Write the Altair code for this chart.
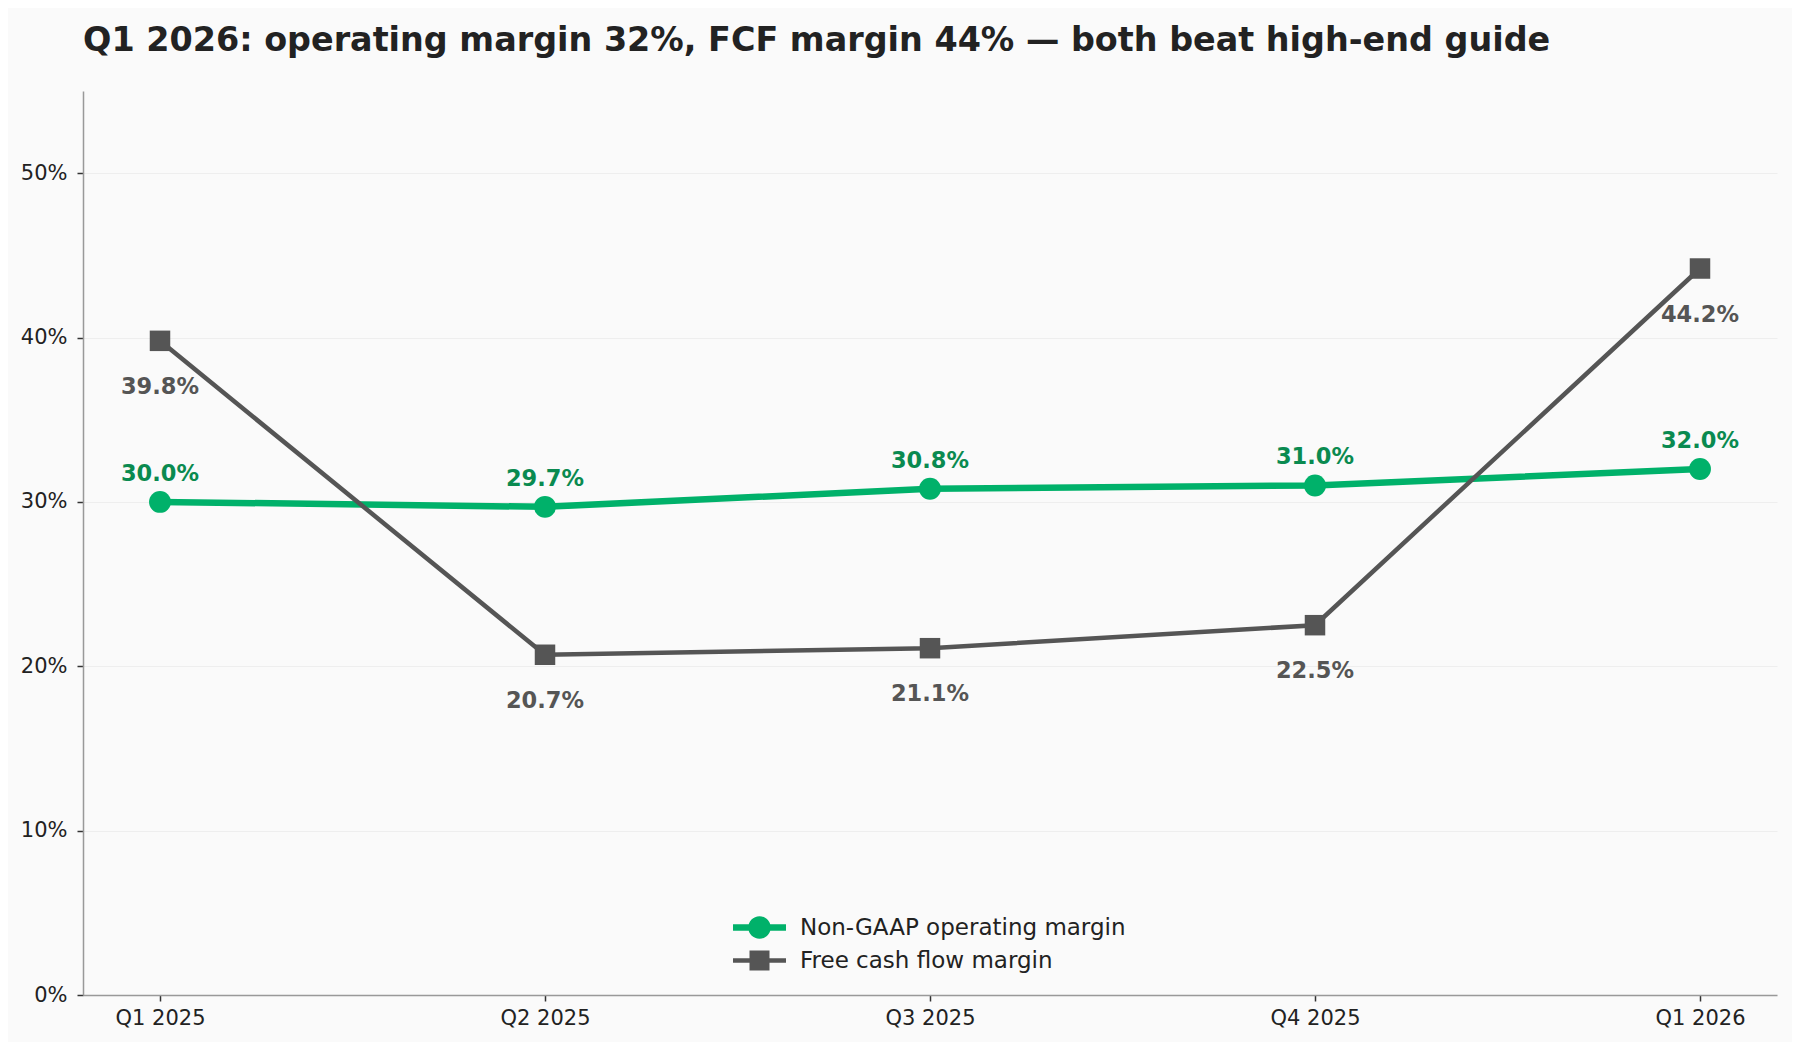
#!/usr/bin/env python3

"""Quarterly operating margin vs FCF margin line chart."""

import altair as alt
import pandas as pd

quarters = ["Q1 2025", "Q2 2025", "Q3 2025", "Q4 2025", "Q1 2026"]
op_margin = [30.0, 29.7, 30.8, 31.0, 32.0]
fcf_margin = [39.8, 20.7, 21.1, 22.5, 44.2]
series_names = ["Non-GAAP operating margin", "Free cash flow margin"]
y_ticks = [0, 10, 20, 30, 40, 50]

GREEN = "#00b16a"
GREEN_TEXT = "#0a8a50"
GRAY = "#555555"

# legend symbols: line segment with the marker on it
CIRCLE_LINE = ("M-2,-0.25 L2,-0.25 L2,0.25 L-2,0.25 Z "
               "M0,-0.85 A0.85,0.85 0 1 1 0,0.85 A0.85,0.85 0 1 1 0,-0.85 Z")
SQUARE_LINE = ("M-2,-0.17 L2,-0.17 L2,0.17 L-2,0.17 Z "
               "M-0.755,-0.755 L0.755,-0.755 L0.755,0.755 L-0.755,0.755 Z")


def plot(df, output_filename):
    x = alt.X("Quarter:N", sort=quarters,
              scale=alt.Scale(type="point", padding=0.2),
              axis=alt.Axis(title=None, labelAngle=0, grid=False))
    y = alt.Y("Value:Q",
              scale=alt.Scale(domain=[0, 55], nice=False, zero=True),
              axis=alt.Axis(title=None, values=y_ticks, grid=True,
                            labelExpr="datum.value + '%'"))

    base = alt.Chart(df).encode(x=x, y=y)
    op = base.transform_filter(alt.datum.Series == series_names[0])
    fcf = base.transform_filter(alt.datum.Series == series_names[1])

    op_line = op.mark_line(color=GREEN, strokeWidth=6.5)
    op_pts = op.mark_circle(color=GREEN, size=480, opacity=1)
    op_txt = op.mark_text(dy=-28, fontSize=22.5, fontWeight="bold",
                          color=GREEN_TEXT).encode(text="Label:N")

    fcf_line = fcf.mark_line(color=GRAY, strokeWidth=4.5)
    fcf_pts = fcf.mark_square(color=GRAY, size=420, opacity=1)
    fcf_txt = fcf.mark_text(dy=46, fontSize=22.5, fontWeight="bold",
                            color=GRAY).encode(text="Label:N")

    # empty layer that only carries the legend
    legend_layer = base.transform_filter("false").mark_point(
        filled=True, opacity=1
    ).encode(
        color=alt.Color("Series:N",
                        scale=alt.Scale(domain=series_names, range=[GREEN, GRAY]),
                        legend=alt.Legend(
                            title=None, orient="none", legendX=663, legendY=823,
                            labelFontSize=23, labelColor="#222222",
                            labelLimit=0,
                            symbolSize=702, symbolStrokeWidth=0,
                            symbolOpacity=1, labelOffset=27, rowPadding=7,
                            padding=0)),
        shape=alt.Shape("Series:N",
                        scale=alt.Scale(domain=series_names,
                                        range=[CIRCLE_LINE, SQUARE_LINE]),
                        legend=alt.Legend(title=None, orient="none",
                                          legendX=663, legendY=823,
                                          labelLimit=0)),
    )

    chart = alt.layer(
        op_line, op_pts, op_txt, fcf_line, fcf_pts, fcf_txt, legend_layer
    ).properties(
        width=1694,
        height=904,
        autosize=alt.AutoSizeParams(type="none"),
        padding={"left": 75, "top": 83, "right": 15, "bottom": 47},
        background="#fafafa",
        title=alt.TitleParams(
            text="Q1 2026: operating margin 32%, FCF margin 44% \u2014 both beat high-end guide",
            anchor="start", frame="group", fontSize=33.4, fontWeight="bold",
            color="#222222", baseline="alphabetic", offset=7),
    ).configure(
        font="DejaVu Sans",
    ).configure_view(
        stroke=None,
    ).configure_axis(
        labelFontSize=21,
        labelColor="#222222",
        domainColor="#999999",
        domainWidth=1.5,
        tickColor="#333333",
        tickSize=6,
        tickWidth=1.5,
        labelPadding=6,
        gridColor="#eeeeee",
        gridWidth=1.2,
    ).configure_axisY(
        labelPadding=10,
    )

    chart.save(output_filename, embed_options={"renderer": "svg", "actions": False})


def main():
    rows = []
    for name, vals in zip(series_names, [op_margin, fcf_margin]):
        for q, v in zip(quarters, vals):
            rows.append({"Quarter": q, "Series": name, "Value": v,
                         "Label": f"{v:.1f}%"})
    df = pd.DataFrame(rows)
    plot(df, "out.html")


if __name__ == '__main__':
    main()
